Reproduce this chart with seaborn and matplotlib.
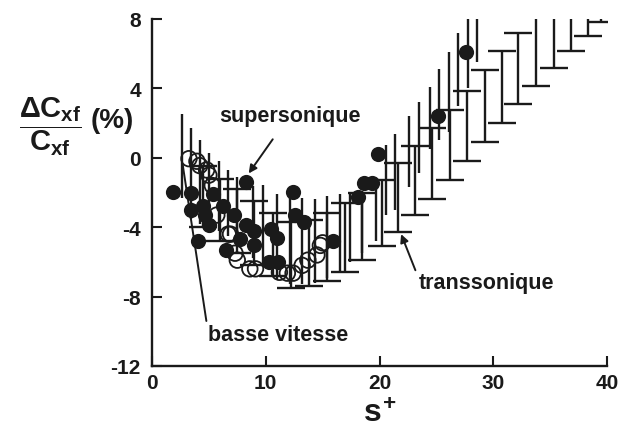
import numpy as np
import pandas as pd
import seaborn as sns
import matplotlib.pyplot as plt

# data ~~~~~~~~~~~~~~~~~~~~~~~~~~~~~~~~~~~~~~~~~~~~~~~~~~~~~~~~~~~~~~~~~~~~~~~~
# transsonique : capped error bars (s+, low, high)
trans_s = [4.5, 6.0, 7.5, 9.0, 10.6, 12.2, 13.8, 15.4, 17.0, 18.5, 20.2, 21.6,
           23.1, 24.6, 26.2, 27.7, 29.3, 30.8, 32.2, 33.8, 35.3, 36.8, 38.3, 39.5]
trans_lo = [-4.0, -4.8, -5.5, -6.2, -6.8, -7.5, -7.4, -7.1, -6.6, -5.9, -5.1, -4.3,
            -3.3, -2.4, -1.3, -0.2, 0.9, 2.0, 3.1, 4.15, 5.2, 6.15, 7.0, 7.8]
trans_hi = [-0.5, -1.2, -1.8, -2.5, -3.2, -3.7, -3.6, -3.2, -2.6, -2.0, -1.3, -0.3,
            0.7, 1.7, 2.75, 3.85, 5.05, 6.15, 7.2, 9.5, 9.5, 9.5, 9.5, 9.5]

# transsonique : long uncapped scatter lines
line_s = [2.6, 3.4, 4.2, 5.0, 5.9, 6.7, 7.5, 8.9, 9.8, 11.0, 12.1, 13.2, 14.3,
          15.4, 16.5, 17.4, 18.5, 19.7, 20.6, 21.4, 22.6, 23.5, 24.4, 25.2, 26.1,
          26.9, 27.8, 28.6]
line_lo = [-2.3, -3.5, -3.8, -4.0, -4.2, -4.5, -5.0, -5.8, -6.3, -7.0, -7.3, -7.3,
           -7.2, -6.9, -6.5, -6.0, -5.5, -4.8, -3.3, -3.0, -1.7, -0.9, 0.5, 1.0,
           1.5, 3.0, 4.0, 5.5]
line_hi = [2.5, 1.7, 1.0, 0.3, -0.2, -0.7, -1.1, -1.6, -1.55, -2.1, -2.3, -2.3,
           -2.4, -2.2, -2.1, -1.95, -1.9, -1.4, 0.75, 1.4, 2.4, 3.2, 4.1, 5.1,
           6.1, 7.2, 9.5, 9.5]

# supersonique : filled circles
sup_s = [1.85, 3.4, 3.4, 4.0, 4.5, 4.65, 5.0, 5.4, 6.2, 6.5, 7.2, 7.7, 8.3, 8.3,
         9.0, 9.0, 10.5, 11.0, 10.3, 11.1, 12.4, 12.6, 13.4, 15.9, 18.1, 18.6,
         19.3, 19.9, 25.1, 27.6]
sup_v = [-1.95, -2.0, -3.0, -4.8, -2.8, -3.3, -3.9, -2.1, -2.8, -5.3, -3.3, -4.7,
         -1.4, -3.85, -4.2, -5.0, -4.1, -4.6, -6.0, -6.0, -1.95, -3.3, -3.7, -4.8,
         -2.25, -1.45, -1.45, 0.2, 2.4, 6.1]

# basse vitesse : open circles
bv_s = [3.25, 3.95, 4.2, 4.8, 5.0, 5.3, 5.7, 6.7, 6.9, 7.3, 7.5, 8.6, 9.1,
        11.2, 11.9, 12.4, 13.2, 13.7, 14.5, 14.8, 15.0]
bv_v = [-0.05, -0.2, -0.45, -0.7, -1.0, -1.6, -3.3, -4.4, -4.4, -5.5, -5.9, -6.4,
        -6.4, -6.6, -6.65, -6.65, -6.2, -5.9, -5.6, -5.05, -4.9]

sns.set_theme(style="ticks")
plt.rcParams['font.family'] = ['Liberation Sans', 'DejaVu Sans']
plt.rcParams['font.weight'] = 'bold'
plt.rcParams['axes.unicode_minus'] = False
for key in ['text.color', 'axes.labelcolor', 'xtick.color', 'ytick.color',
            'axes.edgecolor']:
    plt.rcParams[key] = 'k'
plt.rcParams['mathtext.fontset'] = 'custom'
plt.rcParams['mathtext.rm'] = 'Liberation Sans:bold'
plt.rcParams['mathtext.it'] = 'Liberation Sans:bold'
plt.rcParams['mathtext.bf'] = 'Liberation Sans:bold'

fig = plt.figure(figsize=(6.33, 4.39), dpi=100)
ax = fig.add_axes([152 / 633, 1 - 367 / 439, 455 / 633, 347 / 439])

# bars
lo = np.array(trans_lo)
hi = np.array(trans_hi)
ax.errorbar(trans_s, (lo + hi) / 2, yerr=(hi - lo) / 2, fmt='none', ecolor='k',
            elinewidth=1.7, capsize=10, capthick=1.7, zorder=2)
ax.vlines(line_s, line_lo, line_hi, color='k', lw=1.7, zorder=2)

# circles
sup = pd.DataFrame({'s': sup_s, 'v': sup_v})
bv = pd.DataFrame({'s': bv_s, 'v': bv_v})
sns.scatterplot(data=bv, x='s', y='v', ax=ax, marker='o', s=125,
                facecolor='none', edgecolor='k', linewidth=1.3, zorder=3)
sns.scatterplot(data=sup, x='s', y='v', ax=ax, marker='o', s=120,
                color='k', edgecolor='k', linewidth=0, zorder=4)

ax.set_xlim(0, 40)
ax.set_ylim(-12, 8)
ax.set_xticks([0, 10, 20, 30, 40])
ax.set_yticks([-12, -8, -4, 0, 4, 8])
ax.tick_params(direction='in', length=7, width=1.5, labelsize=15)
ax.tick_params(axis='y', pad=8)
ax.tick_params(axis='x', pad=5)
for lab in ax.get_xticklabels() + ax.get_yticklabels():
    lab.set_fontweight('bold')
sns.despine(ax=ax)
for sp in ['left', 'bottom']:
    ax.spines[sp].set_linewidth(1.7)

ax.set_xlabel(r'$s^{+}$', fontsize=23, labelpad=5)
ax.set_ylabel('')

fig.text(50 / 633, 1 - 127 / 439, r'$\dfrac{\Delta C_{xf}}{C_{xf}}$', fontsize=21,
         ha='center', va='center')
fig.text(112 / 633, 1 - 121 / 439, '(%)', fontsize=20, fontweight='bold',
         ha='center', va='center')

# annotations
ax.annotate('supersonique', xy=(8.5, -0.9), xytext=(12.1, 2.45), fontsize=15.5,
            fontweight='bold', ha='center', va='center',
            arrowprops=dict(arrowstyle='-|>', color='k', lw=1.4, mutation_scale=12,
                            shrinkA=9, shrinkB=0))
ax.annotate('transsonique', xy=(21.9, -4.4), xytext=(29.4, -7.2), fontsize=15.5,
            fontweight='bold', ha='center', va='center',
            arrowprops=dict(arrowstyle='-|>', color='k', lw=1.4, mutation_scale=12,
                            shrinkA=0, shrinkB=0, relpos=(0.0, 0.7)))
ax.annotate('basse vitesse', xy=(2.7, -0.4), xytext=(11.1, -10.2), fontsize=15.5,
            fontweight='bold', ha='center', va='center',
            arrowprops=dict(arrowstyle='-', color='k', lw=1.4,
                            shrinkA=0, shrinkB=0, relpos=(0.0, 0.6)))

fig.savefig('out.png', dpi=100)
